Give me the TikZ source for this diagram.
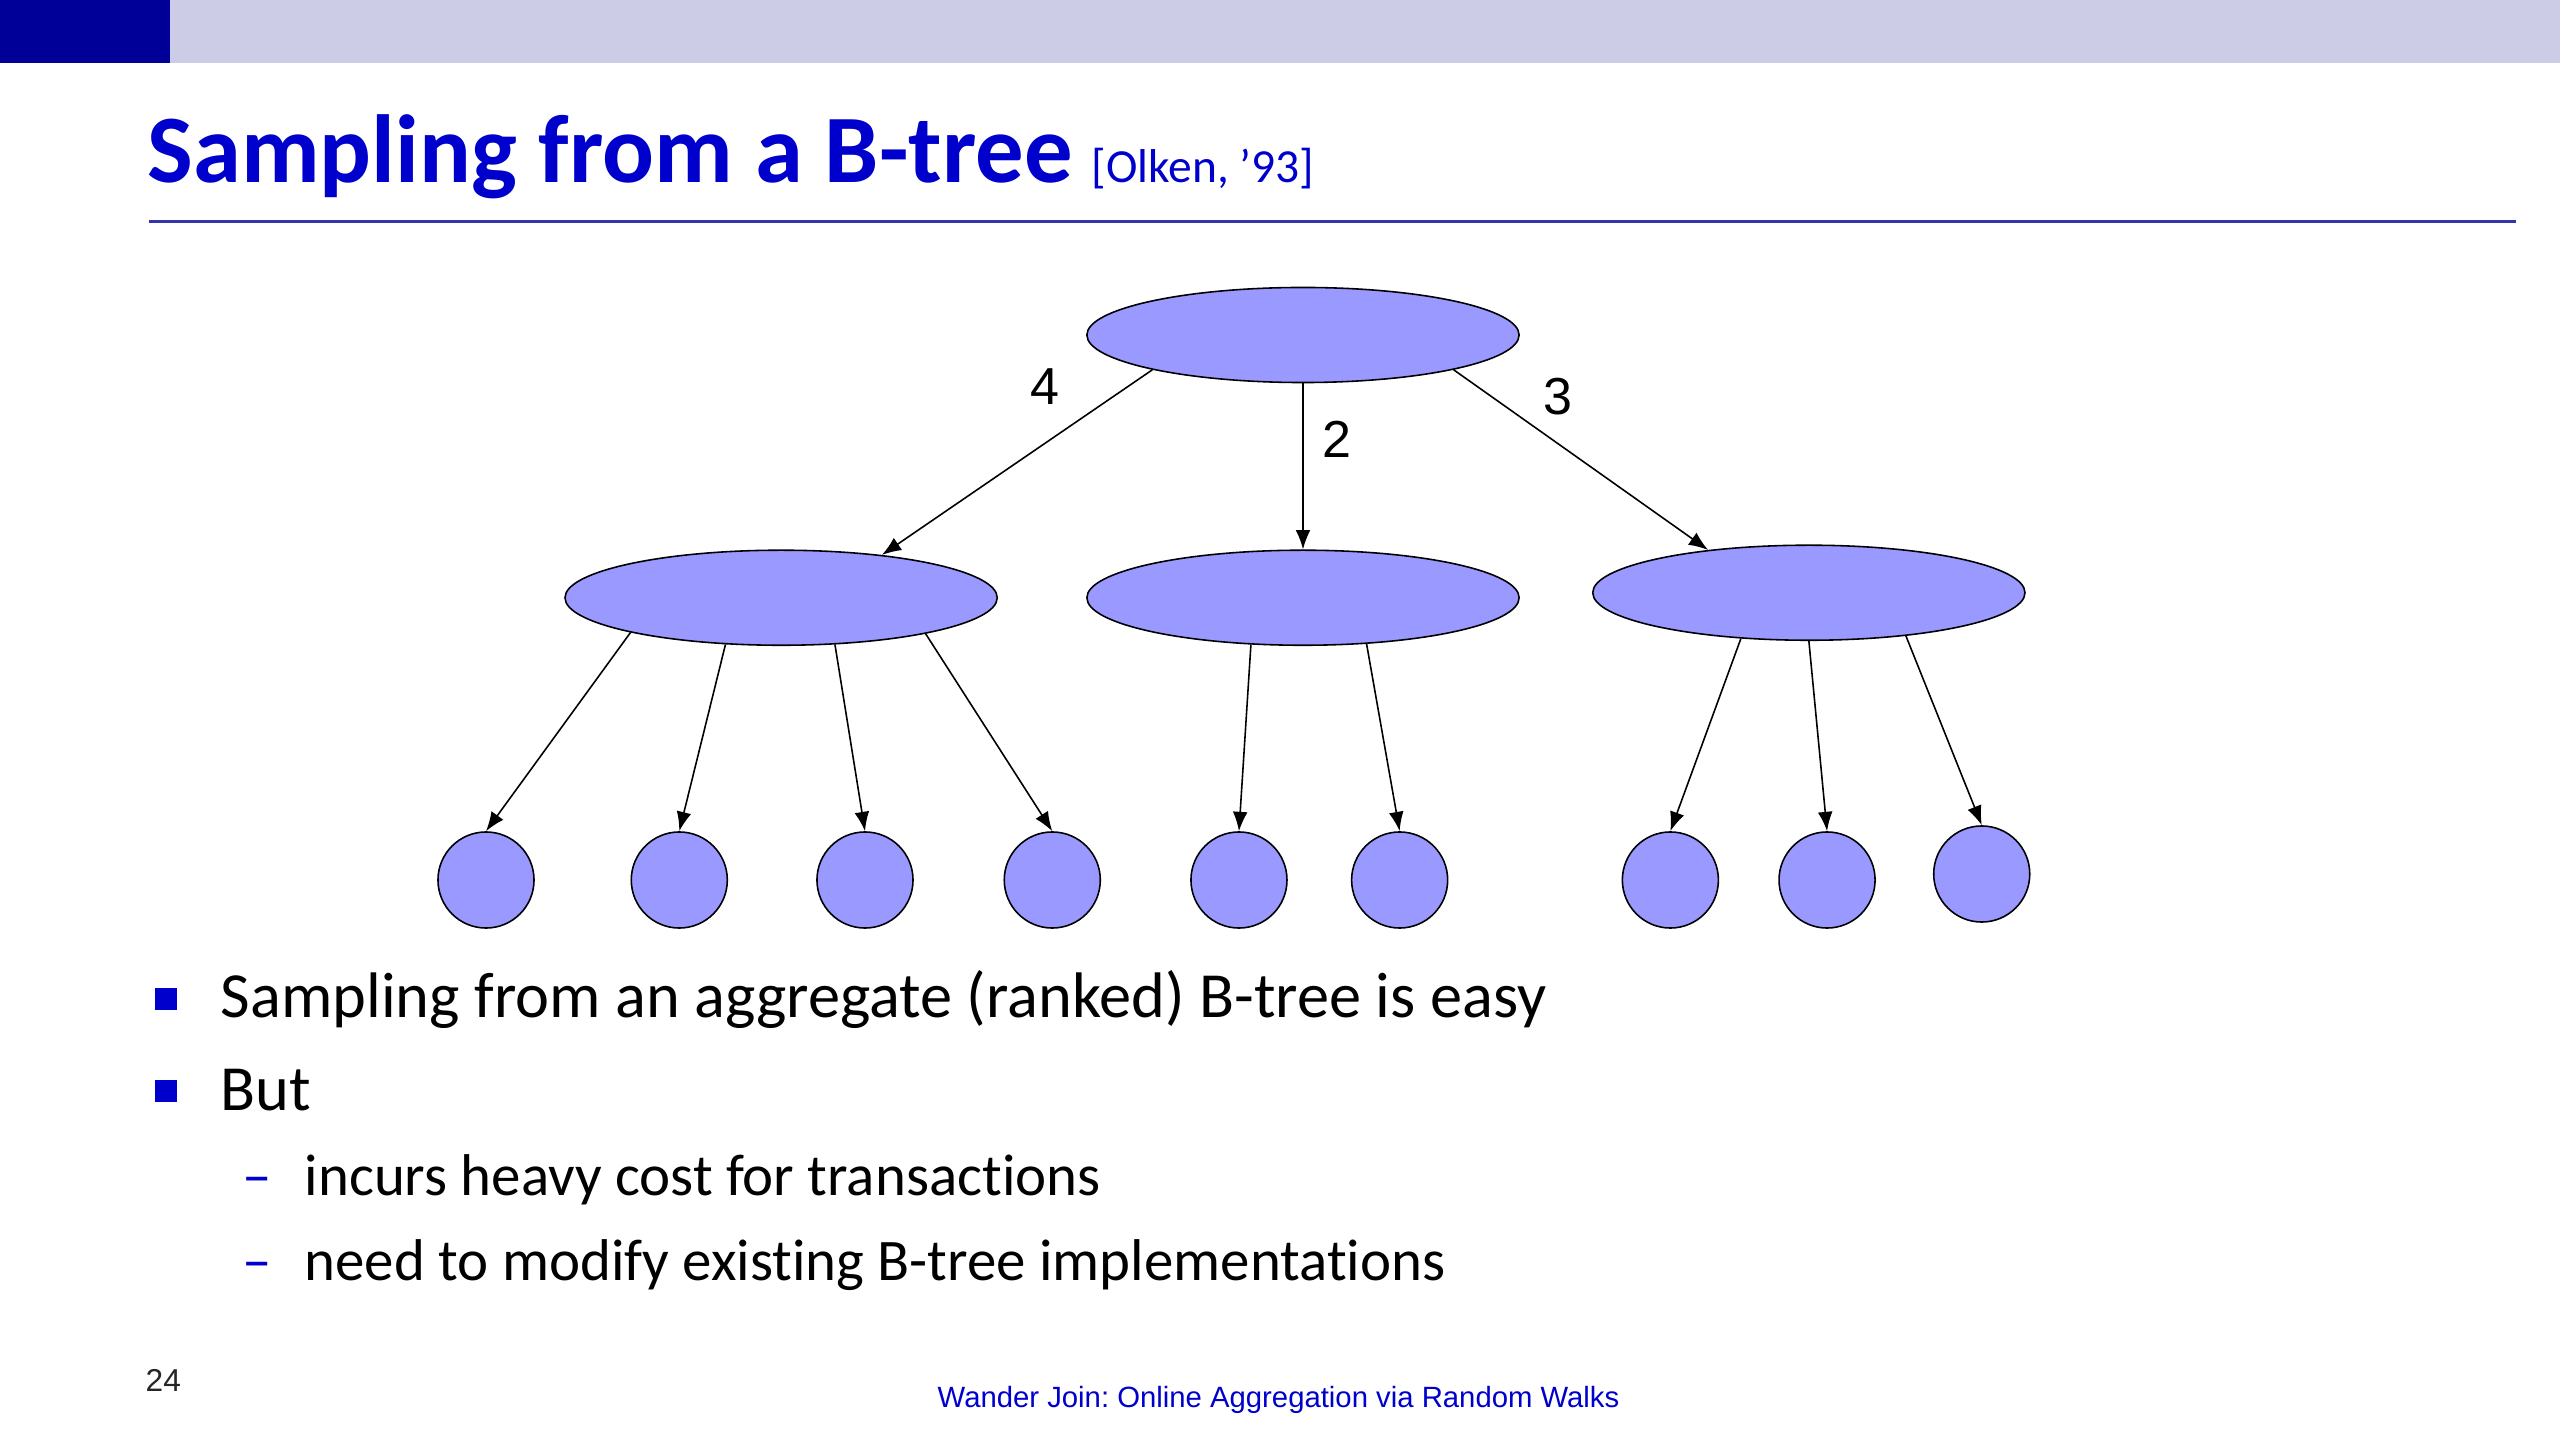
\documentclass[tikz,border=0pt]{standalone}
\usepackage{fontspec}
\setmainfont[Ligatures=NoCommon]{Carlito}
\newfontfamily\arialfont{Liberation Sans}
\usepackage{tikz}
\usepackage{xcolor}
\usetikzlibrary{positioning,arrows.meta,shapes.geometric}
\frenchspacing

\definecolor{barblue}{HTML}{000099}
\definecolor{barlight}{HTML}{CCCCE6}
\definecolor{titleblue}{HTML}{0000CC}
\definecolor{ruleblue}{HTML}{3333AA}
\definecolor{nodefill}{HTML}{9999FF}

\begin{document}
\begin{tikzpicture}[
  x=0.01cm,y=0.01cm,
  bnode/.style={draw,ellipse,fill=nodefill,minimum width=4.32cm,minimum height=0.95cm,inner sep=0pt,line width=0.45pt},
  leaf/.style={draw,circle,fill=nodefill,minimum size=0.96cm,inner sep=0pt,line width=0.45pt},
  arr/.style={-{Latex[length=5.5pt,width=4.2pt]},line width=0.45pt},
  wt/.style={font=\arialfont\fontsize{14.8}{17}\selectfont},
  txt/.style={anchor=base west,inner sep=0pt},
  node distance=1.66cm and 0.88cm
]
\useasboundingbox (0,0) rectangle (2560,-1440);
\fill[white] (0,0) rectangle (2560,-1440);
\fill[barblue] (0,0) rectangle (170,-63);
\fill[barlight] (170,0) rectangle (2560,-63);

% title
\node[txt,font=\fontsize{27.5}{33}\selectfont\bfseries,text=titleblue] (title) at (147,-183) {Sampling from a B-tree};
\node[txt,font=\fontsize{13.5}{16}\selectfont,text=titleblue] (cite) at (1091,-183) {[Olken, ’93]};
\draw[ruleblue,line width=0.85pt] (149,-222) -- (2516,-222);

% the tree
\node[bnode] (root) at (1303,-335) {};
\node[bnode,below=of root] (mc) {};
\node[bnode,left=of mc] (ml) {};
\node[bnode,right=0.72cm of mc,yshift=0.05cm] (mr) {};

\node[leaf] (l1) at (486,-880) {};
\node[leaf,right=0.956cm of l1] (l2) {};
\node[leaf,right=0.88cm of l2] (l3) {};
\node[leaf,right=0.896cm of l3] (l4) {};
\node[leaf,right=0.89cm of l4] (l5) {};
\node[leaf,right=0.63cm of l5] (l6) {};
\node[leaf,right=1.73cm of l6] (l7) {};
\node[leaf,right=0.59cm of l7] (l8) {};
\node[leaf,right=0.57cm of l8,yshift=0.06cm] (l9) {};

\draw[arr] (root.193) -- (ml.23);
\draw[arr] (root.south) -- (mc.north);
\draw[arr] (root.347) -- (mr.157);
\node[wt] (w4) at (1045,-387) {4};
\node[wt] (w2) at (1337,-439) {2};
\node[wt] (w3) at (1558,-397) {3};

\draw[arr] (ml.193) -- (l1.north);
\draw[arr] (ml.220) -- (l2.north);
\draw[arr] (ml.319) -- (l3.north);
\draw[arr] (ml.346) -- (l4.north);
\draw[arr] (mc.222) -- (l5.north);
\draw[arr] (mc.324) -- (l6.north);
\draw[arr] (mr.214) -- (l7.north);
\draw[arr] (mr.south) -- (l8.north);
\draw[arr] (mr.336) -- (l9.north);

% bullets
\node[fill=titleblue,minimum size=0.21cm,inner sep=0pt] (b1) at (166,-999) {};
\node[fill=titleblue,minimum size=0.21cm,inner sep=0pt] (b2) at (166,-1091) {};
\node[txt,font=\fontsize{18.3}{22}\selectfont] (t1) at (220,-1017) {Sampling from an aggregate (ranked) B-tree is easy};
\node[txt,font=\fontsize{18.3}{22}\selectfont] (t2) at (220,-1110) {But};
\node[txt,font=\fontsize{16.75}{20}\selectfont,text=titleblue] (d1) at (242,-1195) {–};
\node[txt,font=\fontsize{16.75}{20}\selectfont,text=titleblue] (d2) at (242,-1280) {–};
\node[txt,font=\fontsize{16.75}{20}\selectfont] (t3) at (304,-1195) {incurs heavy cost for transactions};
\node[txt,font=\fontsize{16.75}{20}\selectfont] (t4) at (304,-1280) {need to modify existing B-tree implementations};

% footer
\node[txt,font=\arialfont\fontsize{9}{11}\selectfont,text=black!85] (pg) at (145,-1391) {24};
\node[txt,font=\arialfont\fontsize{8.33}{10}\selectfont,text=titleblue] (foot) at (937,-1407) {Wander Join: Online Aggregation via Random Walks};
\end{tikzpicture}
\end{document}
